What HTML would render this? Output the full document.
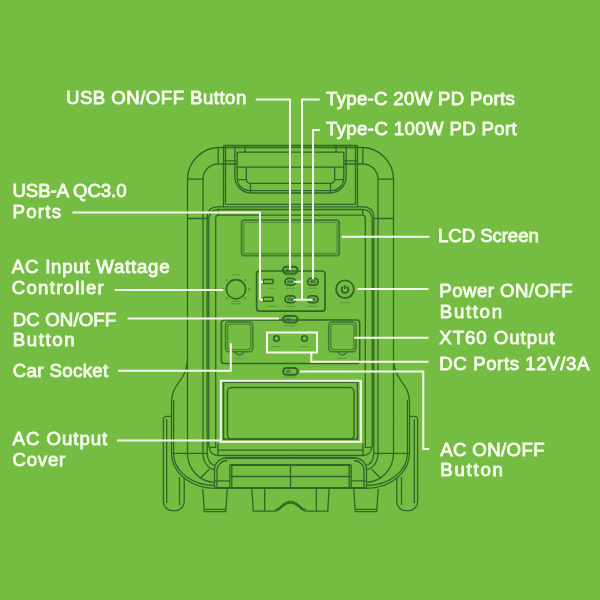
<!DOCTYPE html>
<html><head><meta charset="utf-8"><style>html,body{margin:0;padding:0;background:#75bc43;width:600px;height:600px;overflow:hidden}svg{display:block}</style></head>
<body>
<svg width="600" height="600" viewBox="0 0 600 600">
<rect width="600" height="600" fill="#75bc43"/>
<g fill="none" stroke="#306629" stroke-width="1.3">
<path id="lh" d="M187.5,453.3 V179 A32,32 0 0 1 219.5,147.5 H223.5 M203,453.3 V179.5 A15,15 0 0 1 218.2,164 H223.5 M187.5,179.2 H203 M187.5,218.5 H207.2 M218.2,147.5 V164 M223.5,145.5 V206.5 M225.5,145.5 V204.3 M223.5,145.5 H290.5 M223.5,147.5 H290.5 M237.2,152.1 H290.5 M223.5,160.8 H237.2 M223.5,164 H237.2 M237.2,167.2 H290.5 M245,145.5 V152.1 M234.9,145.5 V177 A16,16 0 0 0 250.9,193 H290.5 M237.2,152.1 V178 A12.6,12.6 0 0 0 250.9,190.6 H290.5 M237.2,179.6 H246.3 M246.3,167.2 V179.3 A4,4 0 0 0 250.5,183.3 M250.5,183.3 H290.5 M250.5,183.3 V193 M225.5,204.3 H290.5 M216.7,206.8 H290.5 M216.7,206.8 A9.5,9.5 0 0 0 207.2,216.3 V453.3 M290.5,209.5 H218.3 V215.2 M218.3,209.5 A9.2,9.2 0 0 0 208.8,218.5 V447 M218.5,215.2 H290.5 M218.5,215.2 A3,3 0 0 0 215.7,218.2 V447.3 H208.8 M218,443.3 V456 M218,450.2 H290.5 M209.5,448 A8.5,7.5 0 0 0 218,455.5 H290.5 M187.5,357 C187.5,383 171.5,381 171.5,402.7 V453.3 A43,35 0 0 0 214.5,488.3 M173.6,400 V453.3 A41,32 0 0 0 214.5,485.5 M171.5,453.3 H207.2 M187.5,453.3 A27.5,29 0 0 0 215,482.3 M203,453.3 A12,16 0 0 0 215,469.3 M207.2,453.3 A8,12 0 0 0 215,465.3 M200,478.5 L209.3,469.2 M214.5,488 V469.5 A11.5,11.5 0 0 1 226,458 H290.5 M217,488.3 V470.5 A10,10 0 0 1 227,460.5 M229.8,465.2 V488.3 M231.8,465.2 V488.3 M229.8,476.5 H290.5 M214.5,480.8 H229.8 M171.5,416.3 H166.5 A3,3 0 0 0 163.4,419.3 V501.8 A8.8,8.8 0 0 0 172.2,510.6 H175.4 A8.8,8.8 0 0 0 184.2,501.8 V477 M166.7,419.3 V503 M179.5,477 V505 M202.8,489 L204.3,511.7 H225.7 L227.3,489 M204,509.3 H226 M251.8,488.3 L253.3,511.2 H274.5 C281,511.2 282,503 290.5,503 M275,509.5 C281,509.5 282,501.3 290.5,501.3 M264.7,488.3 V511.7"/>
<use href="#lh" transform="translate(581.0,0) scale(-1,1)"/>
<path d="M290.5,465.2 V488.3" />
<path d="M214.5,488 H366.5 M229.8,465 H351.2 M226,458 H355" stroke-width="2"/>
<rect x="241.6" y="220.1" width="97.6" height="35.6" rx="3" stroke-width="1.8" opacity="0.75"/>
<rect x="243.9" y="222.3" width="93" height="31.2" rx="2" opacity="0.5"/>
<rect x="256.6" y="271" width="68.4" height="40.2" rx="3" stroke-width="1.7"/>
<rect x="283.0" y="266.8" width="14.6" height="6.6" rx="3.3" stroke-width="2"/>
<rect x="285.8" y="268.8" width="5" height="2.6" rx="0.8" fill="#306629" stroke="none" opacity="0.6"/>
<rect x="283.0" y="315.9" width="14.6" height="6.6" rx="3.3" stroke-width="2"/>
<rect x="285.8" y="317.9" width="5" height="2.6" rx="0.8" fill="#306629" stroke="none" opacity="0.6"/>
<rect x="283.09999999999997" y="368.09999999999997" width="14.6" height="6.6" rx="3.3" stroke-width="2"/>
<rect x="285.9" y="370.09999999999997" width="5" height="2.6" rx="0.8" fill="#306629" stroke="none" opacity="0.6"/>
<rect x="285.0" y="278.3" width="10.6" height="6.8" rx="3.4" stroke-width="1.8"/>
<rect x="287.1" y="280.2" width="6.4" height="3" rx="1.2" fill="#306629" stroke="none" opacity="0.7"/>
<rect x="307.5" y="278.3" width="10.6" height="6.8" rx="3.4" stroke-width="1.8"/>
<rect x="309.6" y="280.2" width="6.4" height="3" rx="1.2" fill="#306629" stroke="none" opacity="0.7"/>
<rect x="285.0" y="295.8" width="10.6" height="6.8" rx="3.4" stroke-width="1.8"/>
<rect x="287.1" y="297.7" width="6.4" height="3" rx="1.2" fill="#306629" stroke="none" opacity="0.7"/>
<rect x="307.5" y="295.8" width="10.6" height="6.8" rx="3.4" stroke-width="1.8"/>
<rect x="309.6" y="297.7" width="6.4" height="3" rx="1.2" fill="#306629" stroke="none" opacity="0.7"/>
<rect x="263.3" y="279.5" width="9.8" height="4" rx="0.8" stroke-width="1.6"/>
<rect x="263.3" y="297.2" width="9.8" height="4" rx="0.8" stroke-width="1.6"/>
<path d="M268,288.3 h8" stroke-width="1.1" opacity="0.45" stroke-dasharray="1.6 0.6"/>
<path d="M286,288.3 h9" stroke-width="1.1" opacity="0.45" stroke-dasharray="1.6 0.6"/>
<path d="M308.5,288.3 h9" stroke-width="1.1" opacity="0.45" stroke-dasharray="1.6 0.6"/>
<path d="M268,306.4 h8" stroke-width="1.1" opacity="0.45" stroke-dasharray="1.6 0.6"/>
<path d="M286,306.4 h9" stroke-width="1.1" opacity="0.45" stroke-dasharray="1.6 0.6"/>
<path d="M308.5,306.4 h9" stroke-width="1.1" opacity="0.45" stroke-dasharray="1.6 0.6"/>
<path d="M285,275.2 h11" stroke-width="1.1" opacity="0.45" stroke-dasharray="1.6 0.6"/>
<path d="M284.5,325.7 h12" stroke-width="1.1" opacity="0.45" stroke-dasharray="1.6 0.6"/>
<path d="M284.5,377 h12" stroke-width="1.1" opacity="0.45" stroke-dasharray="1.6 0.6"/>
<path d="M339.5,302.8 h11" stroke-width="1.1" opacity="0.45" stroke-dasharray="1.6 0.6"/>
<path d="M232,274.7 h8" stroke-width="1.1" opacity="0.45" stroke-dasharray="1.6 0.6"/>
<path d="M234,358.3 h10" stroke-width="1.1" opacity="0.45" stroke-dasharray="1.6 0.6"/>
<path d="M337,358.3 h10" stroke-width="1.1" opacity="0.45" stroke-dasharray="1.6 0.6"/>
<path d="M271.5,346.5 h9" stroke-width="1.1" opacity="0.45" stroke-dasharray="1.6 0.6"/>
<path d="M300,346.5 h8" stroke-width="1.1" opacity="0.45" stroke-dasharray="1.6 0.6"/>
<circle cx="236" cy="289.2" r="9.6" stroke-width="1.7"/>
<circle cx="226.8" cy="280.0" r="1" fill="#306629" stroke="none" opacity="0.6"/>
<circle cx="245.2" cy="280.0" r="1" fill="#306629" stroke="none" opacity="0.6"/>
<circle cx="249.0" cy="289.2" r="1" fill="#306629" stroke="none" opacity="0.6"/>
<circle cx="245.2" cy="298.4" r="1" fill="#306629" stroke="none" opacity="0.6"/>
<circle cx="226.8" cy="298.4" r="1" fill="#306629" stroke="none" opacity="0.6"/>
<circle cx="223.0" cy="289.2" r="1" fill="#306629" stroke="none" opacity="0.6"/>
<path d="M232,301.3 h8 M231,303.8 h10" stroke-width="1" opacity="0.4"/>
<circle cx="345" cy="289.2" r="8.9" stroke-width="1.8"/>
<path d="M343.1,286.7 A3.4,3.4 0 1 0 346.9,286.7" stroke-width="1.9"/>
<path d="M345,285.2 V289" stroke-width="1.7"/>
<rect x="221.4" y="319.9" width="138.3" height="43.6" rx="3" stroke-width="1.5"/>
<rect x="225.5" y="322" width="27.4" height="29.7" rx="3.5" stroke-width="1.4" opacity="0.8"/>
<rect x="227.6" y="324.1" width="23.2" height="25.5" rx="2.5" stroke-width="1.4" opacity="0.6"/>
<path d="M235.2,351.7 A4.2,3 0 0 0 243.6,351.7" stroke-width="1.4" opacity="0.8"/>
<rect x="328.6" y="322" width="27.4" height="29.7" rx="3.5" stroke-width="1.4" opacity="0.8"/>
<rect x="330.70000000000005" y="324.1" width="23.2" height="25.5" rx="2.5" stroke-width="1.4" opacity="0.6"/>
<path d="M338.3,351.7 A4.2,3 0 0 0 346.70000000000005,351.7" stroke-width="1.4" opacity="0.8"/>
<circle cx="276.5" cy="338.5" r="2.8" stroke-width="1.6"/>
<circle cx="304.5" cy="338.5" r="2.8" stroke-width="1.6"/>
<rect x="223.5" y="382.3" width="134" height="56.8" stroke-width="1.5"/>
<rect x="227.5" y="387.6" width="126.5" height="51.5" rx="4" stroke-width="1.5"/>
</g>
<g fill="none" stroke="#f7fbef" stroke-width="2">
<path d="M255.8,99.5 H290 V270 M319.7,99.5 H302 V299.7 M294,281.7 H302 M294,299.7 H312.5 M319.7,130 H313 V279 M72.5,212.5 H260 V299.7 M260,281.7 H263 M260,299.7 H263 M114.7,290 H223.4 M127.5,318.5 H279 M118,370.8 H230.8 V343.3 M117,440.5 H220.8 M341.7,236.7 H429.5 M357.5,289 H428.3 M354.2,337.8 H428.3 M311.3,352.5 V361.7 H428.3 M300,371.5 H423.3 V449 H429.3"/>
<rect x="267" y="332.5" width="50" height="20"/>
<rect x="220.8" y="380.8" width="140" height="61"/>
</g>
<g fill="#f7fbef" font-family="Liberation Sans, sans-serif" font-weight="normal" font-size="17.6" style="will-change:transform;filter:blur(0)" stroke="#f7fbef" stroke-width="0.8">
<text transform="translate(66.0,104.3) scale(1.06,1)" textLength="170.1" lengthAdjust="spacing">USB ON/OFF Button</text>
<text transform="translate(326.0,104.5) scale(1.06,1)" textLength="178.1" lengthAdjust="spacing">Type-C 20W PD Ports</text>
<text transform="translate(326.0,135.0) scale(1.06,1)" textLength="180.0" lengthAdjust="spacing">Type-C 100W PD Port</text>
<text transform="translate(12.5,197.0) scale(1.06,1)" textLength="107.6" lengthAdjust="spacing">USB-A QC3.0</text>
<text transform="translate(12.5,218.0) scale(1.06,1)" textLength="45.8" lengthAdjust="spacing">Ports</text>
<text transform="translate(11.8,273.0) scale(1.06,1)" textLength="148.9" lengthAdjust="spacing">AC Input Wattage</text>
<text transform="translate(11.8,293.5) scale(1.06,1)" textLength="86.8" lengthAdjust="spacing">Controller</text>
<text transform="translate(12.8,325.5) scale(1.06,1)" textLength="97.6" lengthAdjust="spacing">DC ON/OFF</text>
<text transform="translate(12.8,346.0) scale(1.06,1)" textLength="58.3" lengthAdjust="spacing">Button</text>
<text transform="translate(12.8,377.0) scale(1.06,1)" textLength="90.1" lengthAdjust="spacing">Car Socket</text>
<text transform="translate(12.5,445.0) scale(1.06,1)" textLength="89.4" lengthAdjust="spacing">AC Output</text>
<text transform="translate(12.5,466.0) scale(1.06,1)" textLength="49.8" lengthAdjust="spacing">Cover</text>
<text transform="translate(438.0,241.5) scale(1.06,1)" textLength="95.1" lengthAdjust="spacing">LCD Screen</text>
<text transform="translate(439.3,297.0) scale(1.06,1)" textLength="125.8" lengthAdjust="spacing">Power ON/OFF</text>
<text transform="translate(439.8,317.5) scale(1.06,1)" textLength="58.7" lengthAdjust="spacing">Button</text>
<text transform="translate(439.3,344.2) scale(1.06,1)" textLength="108.7" lengthAdjust="spacing">XT60 Output</text>
<text transform="translate(439.3,370.0) scale(1.06,1)" textLength="141.6" lengthAdjust="spacing">DC Ports 12V/3A</text>
<text transform="translate(440.2,456.0) scale(1.06,1)" textLength="98.5" lengthAdjust="spacing">AC ON/OFF</text>
<text transform="translate(440.2,476.0) scale(1.06,1)" textLength="59.2" lengthAdjust="spacing">Button</text>
</g>
</svg>
</body></html>
